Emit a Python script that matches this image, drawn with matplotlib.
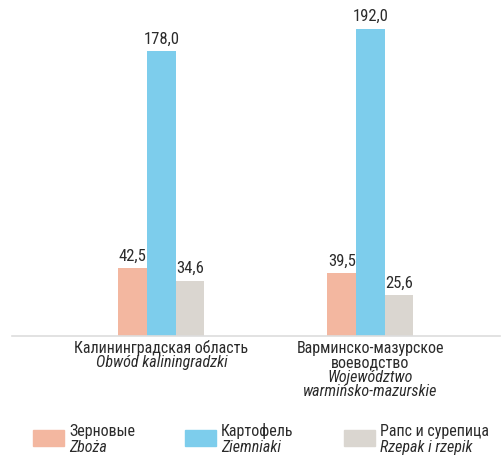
import matplotlib
matplotlib.use("Agg")
import matplotlib.pyplot as plt
from matplotlib.patches import Rectangle
from matplotlib.transforms import blended_transform_factory
from matplotlib import font_manager
import numpy as np

names = {f.name for f in font_manager.fontManager.ttflist}
if 'Roboto Condensed' in names:
    plt.rcParams['font.family'] = ['Roboto Condensed', 'DejaVu Sans']
    fs = 11.5
else:
    plt.rcParams['font.family'] = ['Liberation Sans', 'DejaVu Sans']
    fs = 10.5

regions_ru = ["Калининградская область", "Варминско-мазурское\nвоеводство"]
regions_pl = ["Obwód kaliningradzki", "Województwo\nwarmińsko-mazurskie"]
series_ru = ["Зерновые", "Картофель", "Рапс и сурепица"]
series_pl = ["Zboża", "Ziemniaki", "Rzepak i rzepik"]
values = [
    [42.5, 39.5],
    [178.0, 192.0],
    [34.6, 25.6],
]
colors = ["#F3B7A0", "#7DCDEC", "#DAD6D0"]
tc = '#2b2b2b'

fig = plt.figure(figsize=(5.03, 4.56), dpi=100)
ax = fig.add_axes([12/503, 1-337/456, (500-12)/503, (337-16.8)/456])

x = np.arange(len(regions_ru))
w = 0.137
for i, vals in enumerate(values):
    pos = x + (i - 1) * w
    bars = ax.bar(pos, vals, width=w, color=colors[i], edgecolor='none', zorder=2)
    for b, v in zip(bars, vals):
        ax.annotate(f"{v:.1f}".replace('.', ','), (b.get_x() + b.get_width()/2, v),
                    xytext=(0, 6), textcoords='offset points', ha='center', va='baseline',
                    fontsize=fs + 0.5, color=tc)

ax.set_xlim(-0.715, 1.62)
ax.set_ylim(0, 200)
for s in ['top', 'right', 'left']:
    ax.spines[s].set_visible(False)
ax.spines['bottom'].set_color('#DDDDDD')
ax.spines['bottom'].set_linewidth(1.2)
ax.set_xticks([])
ax.set_yticks([])

tr = blended_transform_factory(ax.transData, fig.transFigure)
pitch = 14.3
for xi, ru, pl in zip(x, regions_ru, regions_pl):
    lines = [(l, 'normal') for l in ru.split('\n')] + [(l, 'italic') for l in pl.split('\n')]
    for k, (l, st) in enumerate(lines):
        yb = 353 + k * pitch
        ax.text(xi, 1 - yb/456, l, transform=tr, ha='center', va='baseline', fontsize=fs,
                color=tc, style=st)

leg_x = [33, 185, 344]
for lx, c, ru, pl in zip(leg_x, colors, series_ru, series_pl):
    fig.patches.append(Rectangle((lx/503, 1-447/456), 31/503, 16/456,
                                 transform=fig.transFigure, color=c, figure=fig))
    fig.text((lx+36)/503, 1-436/456, ru, ha='left', va='baseline', fontsize=fs, color=tc)
    fig.text((lx+36)/503, 1-452/456, pl, ha='left', va='baseline', fontsize=fs,
             color=tc, style='italic')

fig.savefig("out.png", dpi=100)
